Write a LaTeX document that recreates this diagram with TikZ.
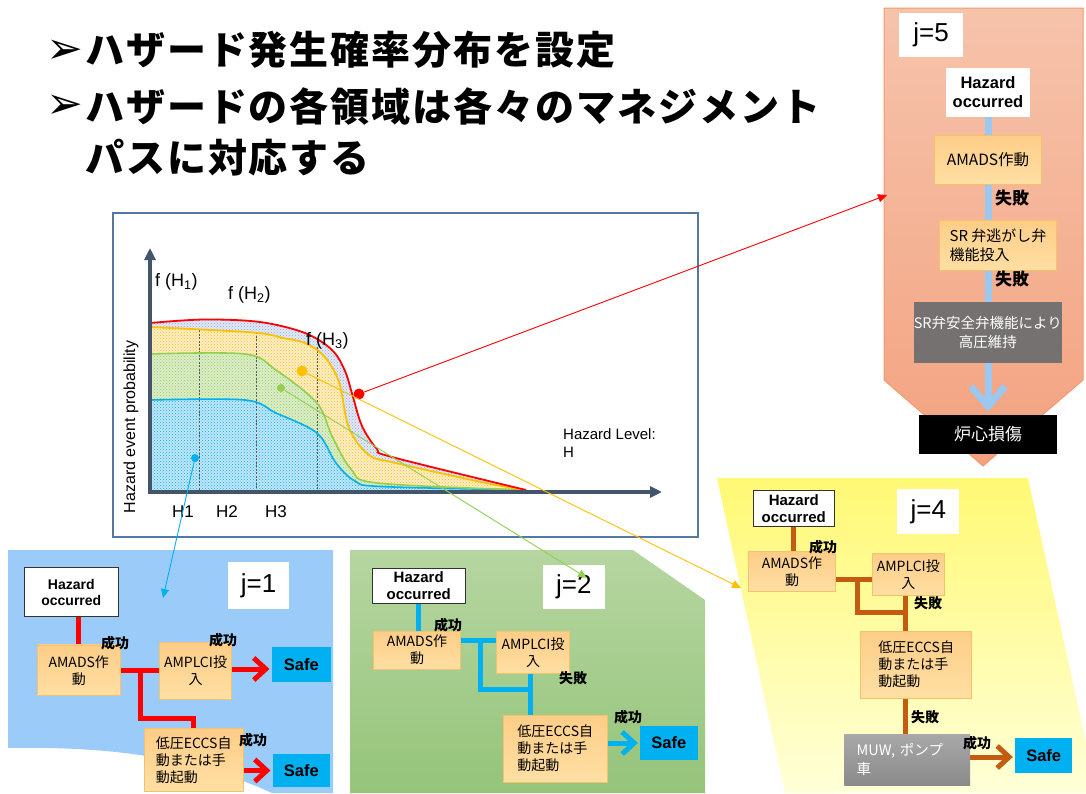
\documentclass[tikz,border=0pt]{standalone}
\usepackage{fontspec}
\setmainfont{Liberation Sans}
\newfontfamily\jp{Noto Sans CJK JP}
\newfontfamily\dv{DejaVu Sans}
\usetikzlibrary{arrows.meta,patterns}
\pgfdeclarelayer{panel}
\pgfdeclarelayer{conn}
\pgfdeclarelayer{top}
\pgfsetlayers{panel,conn,main,top}
\definecolor{cSafe}{HTML}{00B0F0}
\definecolor{cBlueL}{HTML}{00B0F0}
\definecolor{cBrown}{HTML}{C55A11}
\definecolor{cJ5}{HTML}{9CC8F0}
\definecolor{cOtop}{HTML}{FDCD88}
\definecolor{cObot}{HTML}{FFDFA3}
\definecolor{cOedge}{HTML}{F5C26B}
\definecolor{cGrey5}{HTML}{767171}
\definecolor{cMuwT}{HTML}{A8A8A8}
\definecolor{cMuwB}{HTML}{8A8A8A}
\definecolor{cP1}{HTML}{9BCBF9}
\definecolor{cP2t}{HTML}{B6D6A1}
\definecolor{cP2b}{HTML}{95C47A}
\definecolor{cP4t}{HTML}{FFF974}
\definecolor{cP4b}{HTML}{FFFFD8}
\definecolor{cP5t}{HTML}{F6C3AB}
\definecolor{cP5b}{HTML}{F3A27F}
\definecolor{cP5e}{HTML}{F29A70}
\definecolor{cFrame}{HTML}{5479A0}
\definecolor{cAxis}{HTML}{44546A}
\definecolor{cRed}{HTML}{FF0000}
\definecolor{cOr}{HTML}{FFC000}
\definecolor{cGr}{HTML}{92D050}
\definecolor{cBl}{HTML}{00B0F0}
\definecolor{fTopL}{HTML}{E2E8F5}
\definecolor{fTopD}{HTML}{8EA9DB}
\definecolor{fOrL}{HTML}{FDEDCB}
\definecolor{fGrL}{HTML}{DDEDCC}
\definecolor{fBlL}{HTML}{C4E6F8}
\tikzset{
 obox/.style={draw=cOedge, line width=0.6pt, top color=cOtop, bottom color=cObot, align=center, inner sep=2pt, font={\jp\fontsize{14}{17}\selectfont}},
 haz/.style={draw=black!80, line width=0.8pt, fill=white, align=center, inner sep=0pt, font={\bfseries\fontsize{15}{16.5}\selectfont}},
 jlab/.style={fill=white, inner sep=0pt, font={\fontsize{26}{26}\selectfont}},
 safe/.style={fill=cSafe, inner sep=0pt, font={\bfseries\fontsize{16.5}{16.5}\selectfont}},
 lbl/.style={inner sep=0pt, font={\jp\bfseries\fontsize{14}{14}\selectfont}},
 dotn/.style={circle, inner sep=0pt},
 ptr/.style={line width=0.9pt, -{Triangle[length=9pt,width=8pt]}},
 bar/.style={line width=5pt},
 barb/.style={-{Straight Barb[length=12pt,width=22pt]}, shorten >=2pt},
 axis/.style={draw=cAxis, line width=3.5pt, -{Triangle[length=12pt,width=11pt]}},
 vdash/.style={draw=black!65, line width=0.7pt, dash pattern=on 2pt off 1.5pt},
 chartlbl/.style={inner sep=0pt, font={\fontsize{18}{18}\selectfont}},
 bullet/.style={anchor=west, inner sep=0pt, font={\dv\fontsize{44}{44}\selectfont}},
 ttl/.style={anchor=west, inner sep=0pt, font={\jp\bfseries\fontsize{39}{39}\selectfont\addfontfeatures{LetterSpace=5}}},
}
\begin{document}
\begin{tikzpicture}[x=1pt,y=-1pt]
\useasboundingbox (0,0) rectangle (1086,793);

% ---------------- panels ----------------
\begin{pgfonlayer}{panel}
\fill[white] (0,0) rectangle (1086,793);
\fill[cP1] (8,550) -- (333,550) -- (333,793) -- (272,793) .. controls (200,760) and (120,746) .. (8,748) -- cycle;
\path[top color=cP2t, bottom color=cP2b] (350,550) -- (633,550) -- (705,600) -- (705,793) -- (350,793) -- cycle;
\path[top color=cP4t, bottom color=cP4b] (717,478) -- (1028,478) -- (1086,743) -- (1086,793) -- (785,793) -- cycle;
\path[top color=cP5t, bottom color=cP5b, draw=cP5e, line width=1pt] (884,8) -- (1083,8) -- (1083,380) -- (983,466) -- (884,380) -- cycle;
\end{pgfonlayer}

% ---------------- title ----------------
\node[bullet] (b1) at (46,52) {➢};
\node[bullet] (b2) at (46,107) {➢};
\node[ttl] (t1) at (85,50) {ハザード発生確率分布を設定};
\node[ttl] (t2) at (85,106) {ハザードの各領域は各々のマネジメント};
\node[ttl] (t3) at (85,158) {パスに対応する};

% ---------------- chart ----------------
\draw[draw=cFrame, line width=1.5pt, fill=white] (113,213) rectangle (698,537);
\path[preaction={fill=fTopL}, pattern=crosshatch dots, pattern color=fTopD]
 (150,492) -- plot[smooth, tension=0.55] coordinates {(150,323) (204,319.5) (260,322) (305,333) (332,350) (345,371) (353,397) (362,426) (377,449) (392,457) (526,490)} -- (526,492) -- cycle;
\path[preaction={fill=fOrL}, pattern=crosshatch dots, pattern color=cOr]
 (150,492) -- plot[smooth, tension=0.55] coordinates {(150,327) (253,332.5) (283,338) (305,343) (324,356) (339,382) (349,428) (369,455) (396,463) (486,483) (526,490)} -- (526,492) -- cycle;
\path[preaction={fill=fGrL}, pattern=crosshatch dots, pattern color=cGr]
 (150,492) -- plot[smooth, tension=0.55] coordinates {(150,354) (245,354) (276,370) (317,403) (332,436) (351,469) (377,483) (526,490)} -- (526,492) -- cycle;
\path[preaction={fill=fBlL}, pattern=crosshatch dots, pattern color=cBl]
 (150,492) -- plot[smooth, tension=0.55] coordinates {(150,400) (245,400) (276,413) (317,433) (336,463) (355,481) (381,486.5) (526,490)} -- (526,492) -- cycle;
\draw[vdash] (199,330) -- (199,492);
\draw[vdash] (256.5,332) -- (256.5,492);
\draw[vdash] (317,347) -- (317,492);
\draw[cBl, line width=1.6pt] plot[smooth, tension=0.55] coordinates {(150,400) (245,400) (276,413) (317,433) (336,463) (355,481) (381,486.5) (526,490)};
\draw[cGr, line width=1.6pt] plot[smooth, tension=0.55] coordinates {(150,354) (245,354) (276,370) (317,403) (332,436) (351,469) (377,483) (526,490)};
\draw[cOr, line width=1.8pt] plot[smooth, tension=0.55] coordinates {(150,327) (253,332.5) (283,338) (305,343) (324,356) (339,382) (349,428) (369,455) (396,463) (486,483) (526,490)};
\draw[cRed, line width=1.8pt] plot[smooth, tension=0.55] coordinates {(150,323) (204,319.5) (260,322) (305,333) (332,350) (345,371) (353,397) (362,426) (377,449) (392,457) (526,490)};
\coordinate (o) at (150,494);
\coordinate (xend) at (662,492);
\coordinate (yend) at (150,248);
\draw[axis] (148,492) -- (xend);
\draw[axis] (o) -- (yend);
\node[chartlbl, anchor=west] (fh1) at (155,282) {f (H\textsubscript{1})};
\node[chartlbl, anchor=west] (fh2) at (228,295) {f (H\textsubscript{2})};
\node[chartlbl, anchor=west] (fh3) at (306,341) {f (H\textsubscript{3})};
\node[inner sep=0pt, font={\fontsize{17}{17}\selectfont}] (h1) at (183,512) {H1};
\node[inner sep=0pt, font={\fontsize{17}{17}\selectfont}] (h2) at (227,512) {H2};
\node[inner sep=0pt, font={\fontsize{17}{17}\selectfont}] (h3) at (276,512) {H3};
\node[inner sep=0pt, rotate=90, font={\fontsize{16}{16}\selectfont}] (ylab) at (131,427) {Hazard event probability};
\node[inner sep=0pt, anchor=north west, align=left, font={\fontsize{15}{18}\selectfont}] (xlab) at (563,428) {Hazard Level:\\H};

% ---------------- j=5 ----------------
\node[jlab, minimum width=63.4pt, minimum height=44.6pt] (j5) at (931,35) {j=5};
\node[haz, draw=none, minimum width=84pt, minimum height=49pt, font={\bfseries\fontsize{16.5}{18.5}\selectfont}] (haz5) at (988,92.2) {Hazard\\occurred};
\node[obox, minimum width=107.4pt, minimum height=49.3pt, font={\jp\fontsize{15.5}{18}\selectfont}] (amads5) at (988,159.7) {AMADS作動};
\node[obox, minimum width=117.4pt, minimum height=50pt, align=left, font={\jp\fontsize{15}{19}\selectfont}] (sr5) at (998,245.7) {SR 弁逃がし弁\\機能投入};
\node[fill=cGrey5, text=white, minimum width=137.7pt, minimum height=61pt, inner sep=0pt, align=center, font={\jp\fontsize{14.5}{19}\selectfont}] (grey5) at (987.8,332.8) {SR弁安全弁機能により\\高圧維持};
\node[fill=black, text=white, minimum width=137.4pt, minimum height=39pt, inner sep=0pt, font={\jp\fontsize{17}{17}\selectfont}] (core5) at (988,434.5) {炉心損傷};
\node[lbl, font={\jp\bfseries\fontsize{17}{17}\selectfont}] (f5a) at (1012,198) {失敗};
\node[lbl, font={\jp\bfseries\fontsize{17}{17}\selectfont}] (f5b) at (1012,279) {失敗};
\begin{pgfonlayer}{conn}
\draw[draw=cJ5, line width=7pt, -{Straight Barb[length=20pt,width=34pt]}, shorten >=3pt] (haz5.south) -- (core5.north);
\end{pgfonlayer}

% ---------------- j=1 ----------------
\node[haz, minimum width=94pt, minimum height=49.4pt, font={\bfseries\fontsize{14}{16}\selectfont}] (haz1) at (71.3,592) {Hazard\\occurred};
\node[jlab, minimum width=61.6pt, minimum height=47.3pt] (j1) at (258.5,585.3) {j=1};
\node[obox, minimum width=82.3pt, minimum height=50.7pt] (amads1) at (78.8,670.3) {AMADS作\\動};
\node[obox, minimum width=72.4pt, minimum height=56.6pt] (amplci1) at (195.5,671) {AMPLCI投\\入};
\node[obox, minimum width=99.3pt, minimum height=63.4pt, align=left] (eccs1) at (193.7,760) {低圧ECCS自\\動または手\\動起動};
\node[safe, minimum width=59.3pt, minimum height=35pt] (safe1a) at (301.3,664.2) {Safe};
\node[safe, minimum width=57.3pt, minimum height=32.4pt] (safe1b) at (301.3,770.5) {Safe};
\node[lbl] (s1a) at (115,643) {成功};
\node[lbl] (s1b) at (223,640) {成功};
\node[lbl] (s1c) at (253,740) {成功};
\coordinate (j1b) at (140,718);
\begin{pgfonlayer}{conn}
\draw[bar, cRed] (amads1.north) -- (amads1.north |- haz1.south);
\draw[bar, cRed] (amads1.east) -- (amads1.east -| amplci1.west);
\draw[bar, cRed] (j1b |- amads1.east) -- (j1b) -| (eccs1.north);
\draw[bar, cRed, barb] (amplci1.east |- 0,669) -- (safe1a.west |- 0,669);
\draw[bar, cRed, barb] (eccs1.east |- safe1b.west) -- (safe1b.west);
\end{pgfonlayer}

% ---------------- j=2 ----------------
\node[haz, minimum width=92.7pt, minimum height=35pt] (haz2) at (418.7,585.8) {Hazard\\occurred};
\node[jlab, minimum width=62.3pt, minimum height=44pt] (j2) at (573.9,587) {j=2};
\node[obox, minimum width=87.4pt, minimum height=38.3pt] (amads2) at (417,650.2) {AMADS作\\動};
\node[obox, minimum width=72.6pt, minimum height=42.3pt] (amplci2) at (533,652.2) {AMPLCI投\\入};
\node[obox, minimum width=104pt, minimum height=67.3pt, align=left] (eccs2) at (555.3,748.7) {低圧ECCS自\\動または手\\動起動};
\node[safe, minimum width=57.7pt, minimum height=34pt] (safe2) at (668.9,743) {Safe};
\node[lbl] (s2a) at (448,625) {成功};
\node[lbl] (f2a) at (573,678) {失敗};
\node[lbl] (s2b) at (628,717) {成功};
\coordinate (j2a) at (480,640);
\coordinate (j2b) at (480,689);
\coordinate (j2c) at (530,689);
\begin{pgfonlayer}{conn}
\draw[bar, cBlueL] (haz2.south) -- (haz2.south |- amads2.north);
\draw[bar, cBlueL] (amads2.east |- j2a) -- (amplci2.west |- j2a);
\draw[bar, cBlueL] (j2a) -- (j2b) -- (j2c);
\draw[bar, cBlueL] (j2c |- amplci2.south) -- (j2c |- eccs2.north);
\draw[bar, cBlueL, barb] (eccs2.east |- safe2.west) -- (safe2.west);
\end{pgfonlayer}

% ---------------- j=4 ----------------
\node[haz, minimum width=81pt, minimum height=35.3pt] (haz4) at (793.8,508.4) {Hazard\\occurred};
\node[jlab, minimum width=62pt, minimum height=44.7pt] (j4) at (928.3,511.7) {j=4};
\node[obox, minimum width=87.4pt, minimum height=40pt] (amads4) at (792,571.7) {AMADS作\\動};
\node[obox, minimum width=72pt, minimum height=42.4pt] (amplci4) at (908.3,574.5) {AMPLCI投\\入};
\node[obox, minimum width=111pt, minimum height=67.3pt, align=left] (eccs4) at (916.2,664.7) {低圧ECCS自\\動または手\\動起動};
\node[top color=cMuwT, bottom color=cMuwB, text=white, minimum width=125.7pt, minimum height=50.7pt, inner sep=0pt, align=left, text width=101pt, font={\jp\fontsize{14.5}{19}\selectfont}] (muw4) at (907.2,759.7) {MUW, ポンプ\\車};
\node[safe, minimum width=57.3pt, minimum height=35.6pt] (safe4) at (1043.7,755.5) {Safe};
\node[lbl] (s4a) at (823,547) {成功};
\node[lbl] (f4a) at (928,603) {失敗};
\node[lbl] (f4b) at (925,717) {失敗};
\node[lbl] (s4b) at (977,743) {成功};
\coordinate (j4a) at (857.7,579);
\coordinate (j4b) at (857.7,612.3);
\coordinate (j4c) at (905,612.3);
\begin{pgfonlayer}{conn}
\draw[bar, cBrown] (haz4.south) -- (haz4.south |- amads4.north);
\draw[bar, cBrown] (amads4.east |- j4a) -- (amplci4.west |- j4a);
\draw[bar, cBrown] (j4a) -- (j4b) -- (j4c);
\draw[bar, cBrown] (j4c |- amplci4.south) -- (j4c |- eccs4.north);
\draw[bar, cBrown] (j4c |- eccs4.south) -- (j4c |- muw4.north);
\draw[bar, cBrown, barb] (muw4.east |- 0,757) -- (safe4.west |- 0,757);
\end{pgfonlayer}

% ---------------- chart pointers ----------------
\node[dotn, fill=cBl, minimum size=8pt] (dB) at (195,458) {};
\node[dotn, fill=cGr, minimum size=8pt] (dG) at (281,388) {};
\node[dotn, fill=cOr, minimum size=11pt] (dO) at (302,371) {};
\node[dotn, fill=cRed, minimum size=11pt] (dR) at (359,394) {};
\coordinate (j1in) at (163,598);
\coordinate (j2in) at (587,578);
\coordinate (j4in) at (741,588);
\coordinate (j5in) at (887,195);
\begin{pgfonlayer}{top}
\draw[ptr, cBl] (dB) -- (j1in);
\draw[ptr, cGr] (dG) -- (j2in);
\draw[ptr, cOr] (dO) -- (j4in);
\draw[ptr, cRed] (dR) -- (j5in);
\end{pgfonlayer}
\end{tikzpicture}
\end{document}
